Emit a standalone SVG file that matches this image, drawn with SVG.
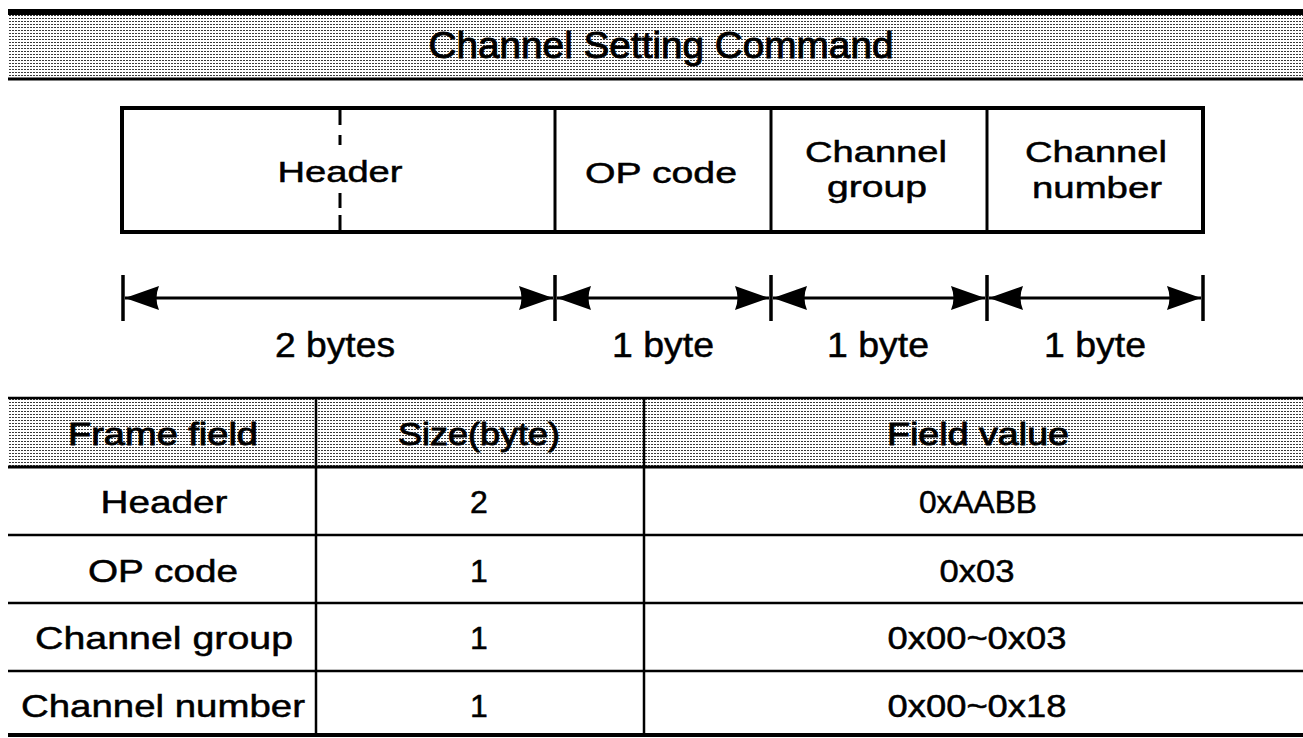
<svg xmlns="http://www.w3.org/2000/svg" width="1303" height="738" viewBox="0 0 1303 738">
  <style>
    text { font-family: "Liberation Sans", Arial, sans-serif; fill: #000; stroke: #000; stroke-width: 0.5; text-anchor: middle; }
    .title { font-size: 37px; stroke-width: 0.9; }
    .fld { font-size: 30px; }
    .dim { font-size: 35px; }
    .cell { font-size: 32px; }
    .head { stroke-width: 0.9; }
    .edge { stroke: #000; fill: none; }
    .rule { stroke: #000; stroke-width: 3; }
    .thin { stroke: #000; stroke-width: 2.5; }
  </style>
  <defs>
    <!-- halftone screen used for the shaded bands -->
    <pattern id="screen" width="3" height="3" patternUnits="userSpaceOnUse">
      <rect width="3" height="3" fill="#fff"/>
      <rect x="0" y="0" width="2" height="1" fill="#3a3a3a"/>
    </pattern>
    <marker id="head" viewBox="0 0 34 24" refX="34" refY="12" markerWidth="34" markerHeight="24" markerUnits="userSpaceOnUse" orient="auto-start-reverse">
      <path d="M0,0 L34,12 L0,24 Q5,12 0,0 z" fill="#000"/>
    </marker>
  </defs>

  <rect width="1303" height="738" fill="#fff"/>

  <!-- title band -->
  <g id="title">
    <rect x="8" y="14" width="1295" height="65" fill="url(#screen)"/>
    <line x1="8" y1="12" x2="1303" y2="12" stroke="#000" stroke-width="6"/>
    <line x1="8" y1="79" x2="1303" y2="79" stroke="#000" stroke-width="3"/>
    <text class="title" x="661" y="58" textLength="465" lengthAdjust="spacingAndGlyphs">Channel Setting Command</text>
  </g>

  <!-- frame layout -->
  <g id="frame">
    <rect x="122" y="108" width="1081" height="124" class="edge" stroke-width="4"/>
    <g id="field-header">
      <line x1="555" y1="108" x2="555" y2="232" class="rule"/>
      <g stroke="#000" stroke-width="3">
        <line x1="340" y1="108" x2="340" y2="125"/>
        <line x1="340" y1="135" x2="340" y2="145"/>
        <line x1="340" y1="193" x2="340" y2="208"/>
        <line x1="340" y1="215" x2="340" y2="232"/>
      </g>
      <text class="fld" x="340" y="182" textLength="125" lengthAdjust="spacingAndGlyphs">Header</text>
    </g>
    <g id="field-opcode">
      <line x1="771" y1="108" x2="771" y2="232" class="rule"/>
      <text class="fld" x="661" y="183" textLength="152" lengthAdjust="spacingAndGlyphs">OP code</text>
    </g>
    <g id="field-group">
      <line x1="987" y1="108" x2="987" y2="232" class="rule"/>
      <text class="fld" x="876" y="162" textLength="142" lengthAdjust="spacingAndGlyphs">Channel</text>
      <text class="fld" x="877" y="197" textLength="100" lengthAdjust="spacingAndGlyphs">group</text>
    </g>
    <g id="field-number">
      <text class="fld" x="1096" y="162" textLength="142" lengthAdjust="spacingAndGlyphs">Channel</text>
      <text class="fld" x="1097" y="198" textLength="130" lengthAdjust="spacingAndGlyphs">number</text>
    </g>
  </g>

  <!-- byte-length dimension arrows -->
  <g id="connectors">
    <g stroke="#000" stroke-width="3.5">
      <line x1="123" y1="275" x2="123" y2="321"/>
      <line x1="555" y1="275" x2="555" y2="321"/>
      <line x1="771" y1="275" x2="771" y2="321"/>
      <line x1="987" y1="275" x2="987" y2="321"/>
      <line x1="1203" y1="275" x2="1203" y2="321"/>
    </g>
    <g stroke="#000" stroke-width="3" marker-start="url(#head)" marker-end="url(#head)">
      <line x1="125" y1="298" x2="553" y2="298"/>
      <line x1="557" y1="298" x2="769" y2="298"/>
      <line x1="773" y1="298" x2="985" y2="298"/>
      <line x1="989" y1="298" x2="1201" y2="298"/>
    </g>
    <text class="dim" x="335" y="357" textLength="120" lengthAdjust="spacingAndGlyphs">2 bytes</text>
    <text class="dim" x="663" y="357" textLength="102" lengthAdjust="spacingAndGlyphs">1 byte</text>
    <text class="dim" x="878" y="357" textLength="102" lengthAdjust="spacingAndGlyphs">1 byte</text>
    <text class="dim" x="1095" y="357" textLength="102" lengthAdjust="spacingAndGlyphs">1 byte</text>
  </g>

  <!-- field table -->
  <g id="table">
    <rect x="8" y="399" width="1295" height="67" fill="url(#screen)"/>
    <line x1="8" y1="398" x2="1303" y2="398" class="thin"/>
    <line x1="8" y1="467" x2="1303" y2="467" class="rule"/>
    <line x1="8" y1="535" x2="1303" y2="535" class="thin"/>
    <line x1="8" y1="603" x2="1303" y2="603" class="thin"/>
    <line x1="8" y1="671" x2="1303" y2="671" class="thin"/>
    <line x1="8" y1="735" x2="1303" y2="735" stroke="#000" stroke-width="4"/>
    <line x1="316" y1="397" x2="316" y2="737" class="thin"/>
    <line x1="644" y1="397" x2="644" y2="737" class="thin"/>

    <g id="row-head">
      <text class="cell head" x="163" y="445" textLength="190" lengthAdjust="spacingAndGlyphs">Frame field</text>
      <text class="cell head" x="479" y="445" textLength="162" lengthAdjust="spacingAndGlyphs">Size(byte)</text>
      <text class="cell head" x="978" y="445" textLength="182" lengthAdjust="spacingAndGlyphs">Field value</text>
    </g>
    <g id="row-header">
      <text class="cell" x="164" y="513" textLength="127" lengthAdjust="spacingAndGlyphs">Header</text>
      <text class="cell" x="479" y="513">2</text>
      <text class="cell" x="978" y="513" textLength="118" lengthAdjust="spacingAndGlyphs">0xAABB</text>
    </g>
    <g id="row-opcode">
      <text class="cell" x="163" y="582" textLength="150" lengthAdjust="spacingAndGlyphs">OP code</text>
      <text class="cell" x="479" y="582">1</text>
      <text class="cell" x="977" y="582" textLength="75" lengthAdjust="spacingAndGlyphs">0x03</text>
    </g>
    <g id="row-group">
      <text class="cell" x="164" y="649" textLength="258" lengthAdjust="spacingAndGlyphs">Channel group</text>
      <text class="cell" x="479" y="649">1</text>
      <text class="cell" x="977" y="649" textLength="179" lengthAdjust="spacingAndGlyphs">0x00~0x03</text>
    </g>
    <g id="row-number">
      <text class="cell" x="163" y="717" textLength="284" lengthAdjust="spacingAndGlyphs">Channel number</text>
      <text class="cell" x="479" y="717">1</text>
      <text class="cell" x="977" y="717" textLength="179" lengthAdjust="spacingAndGlyphs">0x00~0x18</text>
    </g>
  </g>
</svg>
